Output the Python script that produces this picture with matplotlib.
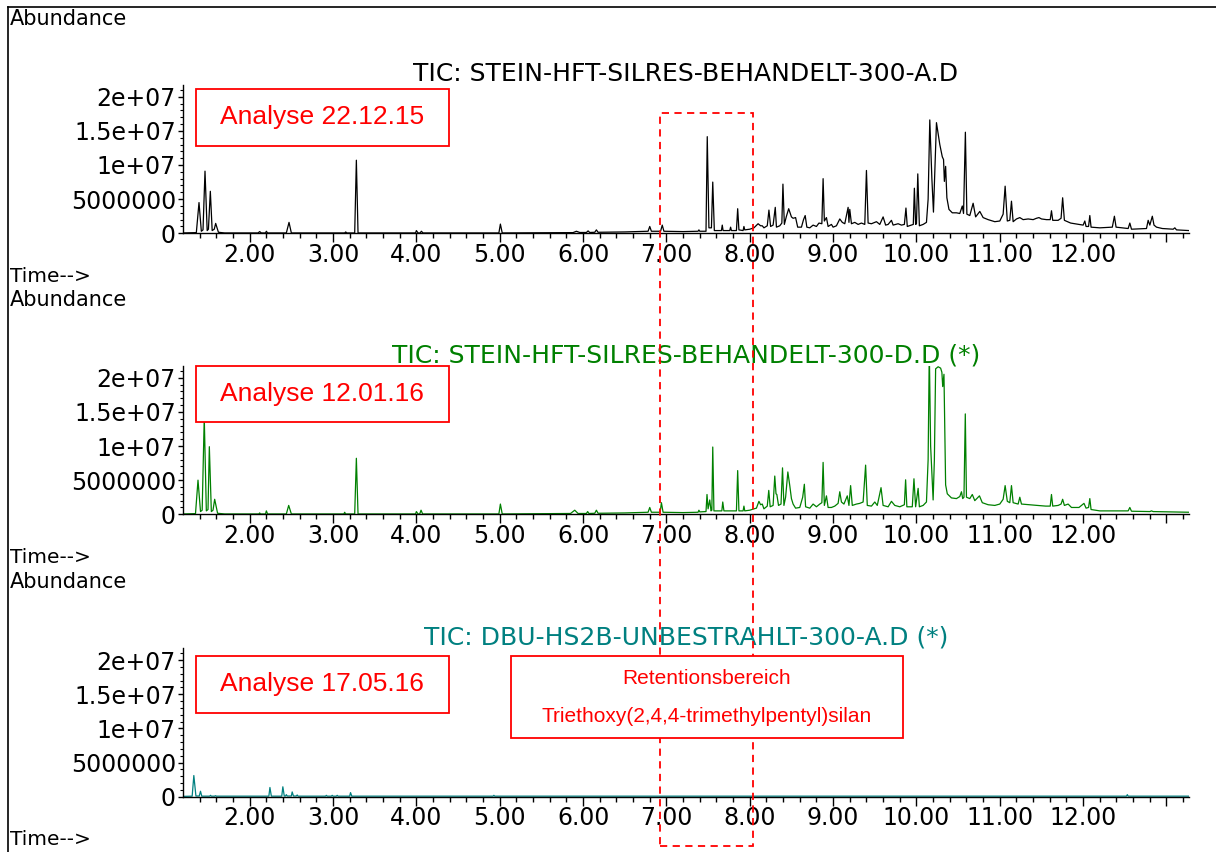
import matplotlib
matplotlib.use('Agg')
import numpy as np
import matplotlib.pyplot as plt
from matplotlib.patches import Rectangle
from matplotlib.lines import Line2D
from matplotlib.transforms import blended_transform_factory

# ---- data (retention time in min, abundance in 1e6 counts) ----
t_a = [1.20, 1.36, 1.392, 1.42, 1.44, 1.464, 1.49, 1.505, 1.528, 1.55, 1.575, 1.592, 1.625, 1.70,
       2.10, 2.12, 2.14, 2.19, 2.20, 2.215, 2.44, 2.472, 2.50, 3.14, 3.152, 3.165, 3.26, 3.28, 3.30,
       3.99, 4.00, 4.02, 4.045, 4.06, 4.08, 4.99, 5.008, 5.03, 5.88, 5.92, 5.96, 6.04, 6.06, 6.08,
       6.14, 6.16, 6.18, 6.50, 6.78, 6.80, 6.82, 6.93, 6.95, 6.97, 7.20, 7.38, 7.39, 7.40, 7.475,
       7.49, 7.51, 7.54, 7.556, 7.575, 7.66, 7.67, 7.68, 7.76, 7.77, 7.78, 7.84, 7.855, 7.87, 7.92,
       7.93, 7.94, 8.00, 8.05, 8.10, 8.13, 8.15, 8.17, 8.21, 8.23, 8.25, 8.28, 8.306, 8.32, 8.36,
       8.385, 8.398, 8.415, 8.44, 8.467, 8.50, 8.52, 8.55, 8.575, 8.62, 8.645, 8.665, 8.685, 8.72,
       8.76, 8.80, 8.83, 8.865, 8.88, 8.895, 8.92, 8.94, 8.98, 9.00, 9.04, 9.08, 9.11, 9.14, 9.18,
       9.19, 9.20, 9.22, 9.26, 9.30, 9.34, 9.38, 9.40, 9.42, 9.46, 9.52, 9.56, 9.60, 9.63, 9.66,
       9.70, 9.72, 9.78, 9.82, 9.855, 9.874, 9.89, 9.94, 9.962, 9.975, 9.99, 10.00, 10.016, 10.035,
       10.08, 10.12, 10.14, 10.16, 10.185, 10.204, 10.22, 10.24, 10.28, 10.31, 10.325, 10.335,
       10.35, 10.365, 10.39, 10.43, 10.48, 10.52, 10.55, 10.565, 10.587, 10.605, 10.64, 10.68,
       10.71, 10.76, 10.80, 10.86, 10.94, 11.00, 11.04, 11.064, 11.09, 11.12, 11.14, 11.16, 11.20,
       11.24, 11.28, 11.34, 11.40, 11.44, 11.47, 11.50, 11.56, 11.605, 11.62, 11.635, 11.70, 11.735,
       11.754, 11.775, 11.85, 11.95, 12.00, 12.02, 12.035, 12.065, 12.08, 12.095, 12.20, 12.35,
       12.375, 12.395, 12.54, 12.56, 12.58, 12.76, 12.78, 12.80, 12.83, 12.85, 12.88, 12.95, 13.08,
       13.10, 13.12, 13.27]
y_a = [0.05, 0.1, 4.5, 0.3, 0.5, 9.1, 0.4, 0.6, 6.15, 0.4, 0.6, 1.45, 0.15, 0.05,
       0.05, 0.25, 0.05, 0.05, 0.3, 0.05, 0.05, 1.6, 0.05, 0.05, 0.2, 0.05, 0.05, 10.7, 0.05,
       0.05, 0.4, 0.05, 0.05, 0.3, 0.05, 0.05, 1.35, 0.05, 0.1, 0.3, 0.12, 0.12, 0.35, 0.12,
       0.15, 0.5, 0.15, 0.2, 0.3, 1.0, 0.3, 0.3, 1.2, 0.3, 0.25, 0.3, 0.5, 0.3, 0.3,
       14.15, 0.8, 0.8, 7.5, 0.4, 0.4, 1.2, 0.4, 0.4, 0.9, 0.4, 0.4, 3.6, 0.5, 0.4,
       1.0, 0.5, 0.6, 0.8, 1.4, 1.1, 1.1, 0.8, 1.1, 3.4, 1.0, 1.2, 3.8, 0.9, 1.1,
       1.5, 7.2, 1.3, 2.5, 3.6, 2.4, 2.2, 2.3, 0.9, 0.9, 2.0, 2.6, 0.9, 0.8,
       1.2, 1.0, 1.5, 1.4, 8.0, 1.8, 2.3, 1.0, 1.3, 0.9, 1.1, 2.1, 1.6, 1.4, 3.8,
       1.6, 3.5, 1.4, 1.6, 1.3, 1.5, 1.3, 9.2, 1.5, 1.4, 1.7, 1.3, 2.4, 1.2, 1.3,
       1.9, 1.2, 1.4, 1.2, 1.3, 3.7, 1.0, 1.2, 1.3, 6.6, 1.3, 1.4, 8.7, 1.1,
       1.3, 1.6, 5.0, 16.6, 8.0, 3.1, 9.0, 16.2, 13.0, 11.2, 10.8, 7.6,
       9.8, 5.2, 3.5, 3.0, 3.0, 2.9, 4.0, 2.9, 14.8, 2.8, 2.6, 4.4,
       2.4, 3.2, 2.3, 2.0, 1.7, 1.8, 2.8, 6.9, 1.8, 1.9, 4.7, 1.7, 2.1,
       2.3, 2.0, 2.1, 2.0, 2.2, 2.3, 2.1, 2.0, 2.0, 3.3, 1.9, 1.9, 2.2,
       5.2, 1.9, 1.5, 1.3, 1.2, 1.8, 1.0, 1.0, 2.6, 0.9, 0.8, 0.9,
       2.5, 0.9, 0.7, 1.5, 0.6, 0.7, 1.9, 1.2, 2.5, 1.2, 0.9, 0.7, 0.6,
       0.8, 0.5, 0.4]

t_d = [1.20, 1.35, 1.38, 1.41, 1.43, 1.455, 1.48, 1.50, 1.516, 1.54, 1.56, 1.58, 1.615, 1.70,
       2.11, 2.12, 2.13, 2.19, 2.20, 2.215, 2.44, 2.468, 2.50, 3.13, 3.14, 3.15, 3.26, 3.28, 3.30,
       3.99, 4.00, 4.02, 4.04, 4.056, 4.075, 4.99, 5.008, 5.03, 5.85, 5.90, 5.94, 6.04, 6.055, 6.07,
       6.14, 6.16, 6.18, 6.50, 6.78, 6.80, 6.82, 6.925, 6.94, 6.96, 7.20, 7.38, 7.39, 7.40, 7.475,
       7.487, 7.50, 7.52, 7.535, 7.545, 7.556, 7.57, 7.665, 7.676, 7.69, 7.84, 7.855, 7.87, 7.92,
       7.93, 7.94, 8.00, 8.05, 8.08, 8.11, 8.13, 8.15, 8.17, 8.21, 8.228, 8.245, 8.28, 8.30, 8.315,
       8.325, 8.345, 8.375, 8.393, 8.41, 8.43, 8.457, 8.48, 8.50, 8.52, 8.55, 8.60, 8.635, 8.655,
       8.67, 8.72, 8.76, 8.80, 8.84, 8.865, 8.88, 8.895, 8.92, 8.94, 8.98, 9.02, 9.06, 9.08, 9.10,
       9.13, 9.17, 9.19, 9.21, 9.23, 9.28, 9.32, 9.36, 9.39, 9.41, 9.46, 9.50, 9.53, 9.575, 9.60,
       9.66, 9.70, 9.74, 9.80, 9.855, 9.87, 9.885, 9.95, 9.97, 9.99, 10.02, 10.035, 10.08, 10.12,
       10.14, 10.154, 10.17, 10.20, 10.215, 10.23, 10.26, 10.29, 10.305, 10.315, 10.33, 10.34,
       10.35, 10.37, 10.42, 10.48, 10.52, 10.54, 10.555, 10.57, 10.586, 10.60, 10.64, 10.67, 10.70,
       10.756, 10.79, 10.86, 10.94, 11.00, 11.04, 11.064, 11.09, 11.12, 11.14, 11.16, 11.22, 11.24,
       11.26, 11.35, 11.45, 11.55, 11.605, 11.62, 11.635, 11.70, 11.735, 11.754, 11.775, 11.82,
       11.86, 11.95, 12.01, 12.035, 12.065, 12.08, 12.095, 12.20, 12.35, 12.54, 12.56, 12.58,
       12.80, 12.82, 12.84, 13.27]
y_d = [0.05, 0.1, 5.0, 0.4, 0.6, 14.2, 0.5, 0.7, 9.9, 0.4, 0.6, 2.2, 0.15, 0.05,
       0.05, 0.2, 0.05, 0.05, 0.5, 0.05, 0.05, 1.3, 0.05, 0.05, 0.3, 0.05, 0.05, 8.2, 0.05,
       0.05, 0.4, 0.05, 0.05, 0.6, 0.05, 0.05, 1.5, 0.05, 0.12, 0.6, 0.12, 0.12, 0.4, 0.12,
       0.15, 0.6, 0.15, 0.2, 0.3, 1.0, 0.3, 0.3, 1.7, 0.3, 0.25, 0.3, 0.6, 0.35, 0.4,
       2.9, 0.8, 2.1, 0.5, 0.6, 9.85, 0.5, 0.5, 1.8, 0.5, 0.5, 6.4, 0.5, 0.5,
       1.2, 0.5, 0.6, 0.8, 0.9, 1.9, 1.4, 1.5, 0.8, 1.2, 3.5, 1.1, 1.3, 5.6, 3.0,
       2.9, 1.3, 1.5, 6.8, 1.3, 2.5, 6.2, 4.2, 2.3, 1.5, 0.9, 1.0, 2.5, 4.4,
       1.1, 0.9, 1.5, 1.1, 1.5, 1.7, 7.6, 1.3, 2.7, 1.0, 1.0, 1.2, 1.6, 3.3, 1.8,
       1.5, 2.7, 1.3, 4.2, 1.3, 1.5, 1.6, 1.8, 7.2, 1.3, 1.2, 1.8, 1.3, 3.9, 1.3,
       1.1, 1.9, 1.3, 1.1, 1.4, 5.05, 1.1, 1.1, 5.2, 1.1, 3.8, 1.1, 1.3, 1.8,
       8.0, 24.0, 10.0, 2.1, 8.0, 21.3, 21.6, 21.4, 20.8, 18.7, 20.5, 12.0,
       4.3, 3.0, 2.4, 2.3, 2.6, 3.3, 2.3, 2.5, 14.7, 2.5, 2.3, 2.9, 2.0,
       2.7, 1.7, 1.4, 1.3, 1.5, 2.2, 4.2, 1.9, 1.7, 4.2, 1.7, 1.5, 2.5,
       1.5, 1.4, 1.3, 1.2, 1.2, 2.9, 1.2, 1.3, 1.5, 2.2, 1.3, 1.5,
       1.0, 1.0, 1.6, 0.9, 1.0, 2.3, 0.7, 0.5, 0.5, 0.5, 1.0, 0.45,
       0.4, 0.5, 0.4, 0.3]

t_dbu = [1.20, 1.31, 1.33, 1.355, 1.395, 1.41, 1.425, 1.52, 1.53, 1.54, 1.58, 1.59, 1.60,
         2.23, 2.243, 2.26, 2.385, 2.398, 2.415, 2.43, 2.44, 2.45, 2.50, 2.51, 2.525, 2.56, 2.57,
         2.58, 2.91, 2.92, 2.93, 2.98, 2.99, 3.00, 3.04, 3.05, 3.06, 3.20, 3.21, 3.225, 4.92, 4.93,
         4.94, 12.52, 12.53, 12.54, 13.27]
y_dbu = [0.05, 0.08, 3.1, 0.1, 0.1, 0.8, 0.08, 0.08, 0.2, 0.08, 0.08, 0.15, 0.08,
         0.08, 1.35, 0.08, 0.08, 1.45, 0.1, 0.1, 0.3, 0.1, 0.1, 0.7, 0.1, 0.1, 0.25,
         0.08, 0.08, 0.2, 0.08, 0.08, 0.2, 0.08, 0.08, 0.2, 0.08, 0.08, 0.6, 0.08, 0.08, 0.2,
         0.08, 0.08, 0.3, 0.08, 0.08]

titles = ['TIC: STEIN-HFT-SILRES-BEHANDELT-300-A.D',
          'TIC: STEIN-HFT-SILRES-BEHANDELT-300-D.D (*)',
          'TIC: DBU-HS2B-UNBESTRAHLT-300-A.D (*)']
colors = ['black', '#008000', '#008080']
dates = ['Analyse 22.12.15', 'Analyse 12.01.16', 'Analyse 17.05.16']
traces = [(t_a, y_a), (t_d, y_d), (t_dbu, y_dbu)]

yticks = [0, 5e6, 1e7, 1.5e7, 2e7]
ytick_labels = ['0', '5000000', '1e+07', '1.5e+07', '2e+07']
xticks = [2, 3, 4, 5, 6, 7, 8, 9, 10, 11, 12, 13]
xtick_labels = ['2.00', '3.00', '4.00', '5.00', '6.00', '7.00', '8.00', '9.00',
                '10.00', '11.00', '12.00', '']
rt_window = [6.925, 8.035]   # Retentionsbereich Triethoxy(2,4,4-trimethylpentyl)silan

# ---- layout (pixels of a 1216x852 picture) ----
W, H = 1216, 852
def fx(x):
    return x / W
def fy(y):
    return 1 - y / H

zero_px = [233.3, 514.3, 796.7]
box_top = [89, 365.7, 656]
ymax = 2.17e7
px_per_unit = 68.3e-7
ax_left, ax_right = 183, 1189

fig = plt.figure(figsize=(W / 100, H / 100), dpi=100)
axes = []
for i in range(3):
    hpx = ymax * px_per_unit
    ax = fig.add_axes([fx(ax_left), fy(zero_px[i]), (ax_right - ax_left) / W, hpx / H])
    t, y = traces[i]
    ax.plot(t, np.array(y) * 1e6, color=colors[i], lw=0.9)
    ax.set_xlim(1.2, 13.27)
    ax.set_ylim(0, ymax)
    ax.set_xticks(xticks)
    ax.set_xticklabels(xtick_labels)
    ax.set_xticks(np.arange(1.4, 13.3, 0.2), minor=True)
    ax.set_yticks(yticks)
    ax.set_yticklabels(ytick_labels)
    ax.set_yticks(np.arange(0, 2.15e7, 1e6), minor=True)
    ax.tick_params(axis='x', which='major', length=6.5, width=1, labelsize=17, pad=0.5)
    ax.tick_params(axis='x', which='minor', length=3.6, width=1)
    ax.tick_params(axis='y', which='major', length=3.6, width=1, labelsize=17, pad=1.5)
    ax.tick_params(axis='y', which='minor', length=2.2, width=0.8)
    ax.spines['top'].set_visible(False)
    ax.spines['right'].set_visible(False)
    ax.spines['left'].set_linewidth(1.0)
    ax.spines['bottom'].set_linewidth(1.0)
    ax.patch.set_alpha(0)
    axes.append(ax)

    top_px = zero_px[i] - hpx
    fig.text(fx(10), fy(top_px - 66), 'Abundance', fontsize=15, va='center', ha='left')
    fig.text(fx(10), fy(zero_px[i] + 43), 'Time-->', fontsize=14.5, va='center', ha='left')
    fig.text(fx((ax_left + ax_right) / 2), fy(top_px - 11), titles[i], fontsize=18,
             color=colors[i], va='center', ha='center')

    # date box
    b0 = box_top[i]
    fig.add_artist(Rectangle((fx(195.6), fy(b0 + 56.5)), (448.5 - 195.6) / W, 56.5 / H,
                             transform=fig.transFigure, fc='white', ec='red', lw=1.3, zorder=4))
    fig.text(fx(322), fy(b0 + 28), dates[i], fontsize=19, family='Liberation Sans',
             color='red', va='center', ha='center', zorder=5)

# dashed retention window over all three panels
blend = blended_transform_factory(axes[0].transData, fig.transFigure)
fig.add_artist(Rectangle((rt_window[0], fy(846)), rt_window[1] - rt_window[0], fy(113) - fy(846),
                         transform=blend, fill=False, ec='red', lw=1.3, ls=(0, (4, 3)), zorder=6))

# retention box in the bottom panel
fig.add_artist(Rectangle((fx(511), fy(737.7)), (903 - 511) / W, (737.7 - 656) / H,
                         transform=fig.transFigure, fc='white', ec='red', lw=1.3, zorder=7))
fig.text(fx(707), fy(679), 'Retentionsbereich', fontsize=15, family='Liberation Sans',
         color='red', va='center', ha='center', zorder=8)
fig.text(fx(707), fy(716), 'Triethoxy(2,4,4-trimethylpentyl)silan', fontsize=15,
         family='Liberation Sans', color='red', va='center', ha='center', zorder=8)

# outer frame lines
fig.add_artist(Line2D([fx(8), fx(8)], [fy(7.3), 0], color='black', lw=1.2))
fig.add_artist(Line2D([fx(8), 1], [fy(7.3), fy(7.3)], color='black', lw=1.2))

fig.savefig('out.png', dpi=100)
